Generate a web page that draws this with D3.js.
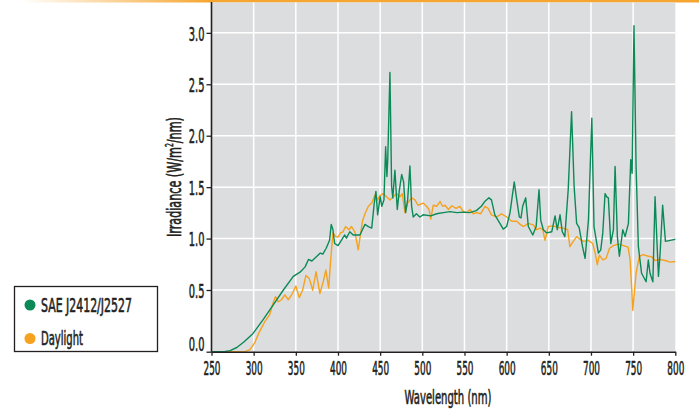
<!DOCTYPE html>
<html>
<head>
<meta charset="utf-8">
<script src="https://cdn.jsdelivr.net/npm/d3@7"></script>
<style>
  html, body { margin: 0; padding: 0; background: #fff; }
  svg { display: block; }
  text { font-family: "DejaVu Sans Condensed", "Liberation Sans Narrow", "Liberation Sans", sans-serif; fill: #231f20; stroke: #231f20; stroke-width: 0.6px; }
</style>
</head>
<body>
<script>
// wavelengths (nm) and irradiance (W/m2/nm)
var saeWl = [250,265,272,280,288,299,311,323,335,347,355,361,365,369,375,379,382,386,390,392,394,396,400,404,408,410,414,418,426,432,436,440,443,445,447,450,452,454.5,456.5,458,459,461.6,463.6,465,467.5,470.3,472.6,475.5,477.8,480.2,482.6,485.3,487.3,489.2,493,497,501,510,517,525,533,541,549,556,564,570,574,579,582,586,592,596,600,604,609,612,615,617,619,622.6,625.7,631,635,638.4,640.4,643.5,647.5,653.5,657.4,660,663.3,666,669,673,677,680,683,686,690,693,697,701,703.6,708.8,711.6,714,716.7,718.7,720.6,723.5,726.6,728.6,731.3,733.7,737.7,740.5,744.4,747.2,748.8,751,753.5,756.2,760,765.4,768,770,773.4,776,780,782,785,788.3,794,800];
var saeVal = [0,0,0.009,0.034,0.077,0.146,0.258,0.378,0.498,0.632,0.673,0.725,0.797,0.782,0.828,0.859,0.849,0.906,0.983,1.138,1.086,0.952,0.932,0.983,1.035,1.004,1.066,1.035,1.035,1.138,1.117,1.102,1.345,1.458,1.231,1.406,1.314,1.376,1.892,1.603,1.768,2.614,1.510,1.396,1.665,1.283,1.458,1.623,1.551,1.252,1.376,1.706,1.314,1.210,1.241,1.210,1.231,1.221,1.241,1.252,1.262,1.252,1.257,1.252,1.272,1.314,1.360,1.396,1.376,1.231,1.148,1.092,1.117,1.252,1.551,1.376,1.210,1.200,1.314,1.396,1.117,1.035,1.117,1.474,1.179,1.086,1.055,1.066,1.221,1.086,1.231,1.066,1.019,1.474,2.233,1.510,1.148,1.107,0.921,0.808,1.179,2.171,1.117,0.859,0.890,1.055,1.437,1.406,1.396,0.952,1.086,1.701,1.019,0.828,1.086,1.019,1.148,1.768,1.634,3.069,1.701,0.921,0.663,0.580,0.792,0.663,0.580,1.406,0.632,0.859,1.324,0.973,0.983,0.993];

var dayWl = [250,290,295.5,301,307,313,319,323,326,329,333,337,341,345,350,354,358,362,366,370,374,378.5,382.5,385.6,389,391,394,397.5,400,403,406,409,413,416,420,424,429,432,436,440,444,447,449.7,453.6,457.6,461.6,465.5,469.5,473.4,476.2,479.4,482.6,487.3,491.2,495,501,505,508,510,513,517,521,524,527,531,535,540,544.6,548.6,552.6,556.5,560.4,564.4,569,574.3,578,582,588,594,600,606,612,616,620,625.7,631.6,635.6,639.6,642.8,645.5,649.4,655.4,661.3,667,672.4,675,679,683,687,691,697,702,705,707.5,710,714,718,722,726.6,732.5,738.5,744,746.4,748.4,749.6,751,753.5,757.4,762,768,772,776,782,788,794,800];
var dayVal = [0,0,0.017,0.069,0.163,0.241,0.301,0.395,0.447,0.404,0.421,0.460,0.421,0.460,0.539,0.438,0.498,0.642,0.611,0.498,0.679,0.472,0.580,0.694,0.518,0.756,1.055,1.019,1.014,1.055,1.066,1.117,1.086,1.117,1.066,0.890,1.169,1.241,1.314,1.345,1.427,1.376,1.417,1.437,1.406,1.376,1.406,1.437,1.406,1.437,1.252,1.345,1.396,1.376,1.324,1.345,1.314,1.283,1.190,1.324,1.314,1.360,1.314,1.324,1.283,1.319,1.293,1.314,1.262,1.252,1.283,1.241,1.252,1.241,1.314,1.293,1.231,1.210,1.241,1.210,1.169,1.169,1.138,1.117,1.148,1.133,1.086,1.102,1.086,0.983,1.117,1.123,1.107,1.102,1.086,0.921,0.973,1.019,0.993,0.973,0.983,0.952,0.859,0.746,0.839,0.792,0.808,0.906,0.932,0.947,0.932,0.916,0.792,0.498,0.335,0.447,0.663,0.828,0.844,0.828,0.823,0.787,0.797,0.787,0.771,0.777];

var xTicks = [250,300,350,400,450,500,550,600,650,700,750,800];
var yTicks = [0.0,0.5,1.0,1.5,2.0,2.5,3.0];
var seriesNames = ["SAE J2412/J2527", "Daylight"];
var seriesColors = ["#0b8a57", "#f6a21e"];

var chart = (function() {
  var width = 699, height = 410;
  var left = 211.5, right = 675.3, top = 2, bottom = 351.7;

  var svg = d3.select("body").append("svg")
      .attr("width", width)
      .attr("height", height);

  // squeeze a text horizontally to the given width (the source font is very condensed)
  var squeeze = function squeeze(sel, w, dx) {
    sel.each(function() {
      var n = this.getComputedTextLength();
      var s = n > 0 ? w / n : 1;
      d3.select(this).attr("x", 0)
          .attr("transform", "translate(" + (dx || 0) + ",0) scale(" + s + ",1)");
    });
  };

  var x = d3.scaleLinear().domain([250, 800]).range([left, right]);
  // the printed chart stretches its first interval: 0.5 sits at 290px, not at a linear spot
  var y = d3.scaleLinear().domain([0, 0.5, 3.3]).range([bottom, 290, top]);

  // orange strip along the top, fading in from the left
  var grad = svg.append("defs").append("linearGradient")
      .attr("id", "topfade")
      .attr("x1", "0").attr("x2", "1").attr("y1", "0").attr("y2", "0");
  grad.append("stop").attr("offset", "0.03").attr("stop-color", "#f6a630").attr("stop-opacity", 0);
  grad.append("stop").attr("offset", "0.3").attr("stop-color", "#f6a630").attr("stop-opacity", 1);
  grad.append("stop").attr("offset", "1").attr("stop-color", "#f6a630").attr("stop-opacity", 1);
  svg.append("rect")
      .attr("x", 0).attr("y", 0)
      .attr("width", width).attr("height", 2.5)
      .attr("fill", "url(#topfade)");

  svg.append("rect")
      .attr("x", left).attr("y", top + 0.5)
      .attr("width", right - left).attr("height", bottom - top - 0.5)
      .attr("fill", "#dcdddf");

  // grid
  svg.append("g").selectAll("line")
      .data(xTicks.filter(function(d) { return d > 250 && d < 800; }))
    .enter().append("line")
      .attr("x1", function(d) { return x(d); }).attr("x2", function(d) { return x(d); })
      .attr("y1", top + 0.5).attr("y2", bottom)
      .attr("stroke", "#fff").attr("stroke-width", 1.5);
  svg.append("g").selectAll("line")
      .data(yTicks.filter(function(d) { return d > 0; }))
    .enter().append("line")
      .attr("x1", left).attr("x2", right)
      .attr("y1", function(d) { return y(d); }).attr("y2", function(d) { return y(d); })
      .attr("stroke", "#fff").attr("stroke-width", 1.5);

  // series
  var line = d3.line()
      .x(function(d) { return x(d[0]); })
      .y(function(d) { return y(d[1]); });
  var series = [d3.zip(saeWl, saeVal), d3.zip(dayWl, dayVal)];
  svg.append("g").selectAll("path")
      .data([series[1], series[0]])
    .enter().append("path")
      .attr("d", line)
      .attr("fill", "none")
      .attr("stroke-width", 1.4)
      .attr("stroke-linejoin", "round")
      .attr("stroke", function(d, i) { return i === 0 ? seriesColors[1] : seriesColors[0]; });

  // axes
  var xAxis = svg.append("g")
      .attr("transform", "translate(0," + bottom + ")")
      .call(d3.axisBottom(x).tickValues(xTicks).tickSize(4).tickSizeOuter(0).tickFormat(d3.format("d")));
  var yAxis = svg.append("g")
      .attr("transform", "translate(" + left + ",0)")
      .call(d3.axisLeft(y).tickValues(yTicks).tickSize(5).tickSizeOuter(0).tickFormat(d3.format(".1f")));

  [xAxis, yAxis].forEach(function(a) {
    a.select(".domain").attr("stroke", "#231f20").attr("stroke-width", 1.6);
    a.selectAll(".tick line").attr("stroke", "#231f20").attr("stroke-width", 1.3);
    a.selectAll(".tick text")
        .attr("font-size", 20)
        .attr("fill", "#231f20");
  });
  yAxis.select(".domain").attr("d", "M0," + top + "V" + bottom);
  xAxis.selectAll(".tick text").attr("y", 9).attr("dy", "0.71em").call(squeeze, 17, 0);
  yAxis.selectAll(".tick text").attr("dy", "0.36em").call(squeeze, 15.7, -7);
  // 0.0 label sits a little above the corner
  yAxis.selectAll(".tick text").filter(function(d) { return d === 0; }).attr("y", -8);

  svg.append("g")
      .attr("transform", "translate(448,404)")
    .append("text")
      .attr("text-anchor", "middle")
      .attr("font-size", 20)
      .text("Wavelength (nm)")
      .call(squeeze, 87, 0);

  var yt = svg.append("g")
      .attr("transform", "translate(181,177) rotate(-90)")
    .append("text")
      .attr("text-anchor", "middle")
      .attr("font-size", 20);
  yt.append("tspan").text("Irradiance (W/m");
  yt.append("tspan").attr("font-size", 11).attr("dy", -8).text("2");
  yt.append("tspan").attr("dy", 8).text("/nm)");
  yt.call(squeeze, 120, 0);

  // legend
  var legend = svg.append("g");
  legend.append("rect")
      .attr("x", 14.5).attr("y", 286.5)
      .attr("width", 143).attr("height", 65)
      .attr("fill", "#fff")
      .attr("stroke", "#231f20").attr("stroke-width", 1.3);
  var item = legend.selectAll(".item")
      .data(seriesNames)
    .enter().append("g")
      .attr("transform", function(d, i) { return "translate(30," + (305 + i * 33.5) + ")"; });
  item.append("circle")
      .attr("r", 5.5)
      .attr("fill", function(d, i) { return seriesColors[i]; });
  item.append("g")
      .attr("transform", "translate(11,6.5)")
    .append("text")
      .attr("font-size", 19)
      .text(function(d) { return d; })
      .each(function(d, i) { d3.select(this).call(squeeze, i === 0 ? 91 : 42, 0); });

  return svg;
})();
</script>
</body>
</html>
